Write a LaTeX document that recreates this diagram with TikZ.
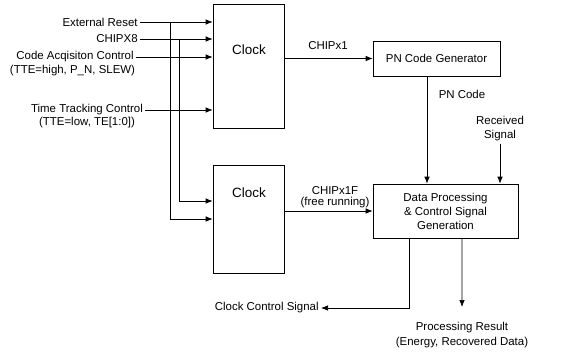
\documentclass[tikz,border=0pt]{standalone}
\usepackage{fontspec}
\setmainfont{Liberation Sans}
\usetikzlibrary{arrows.meta}

\begin{document}
\begin{tikzpicture}[x=1bp, y=-1bp, line width=0.7pt, every node/.style={font=\fontsize{11.5}{14}\selectfont, inner sep=2bp}]
            \tikzstyle{block}=[rectangle, draw, inner sep=0pt]
            \tikzstyle{sig}=[-{Latex[length=7bp,width=5.5bp]}]
            \tikzstyle{clocktext}=[font=\fontsize{13.5}{16}\selectfont]
            \useasboundingbox (0,0) rectangle (565,352);

            \node[block, minimum width=71bp, minimum height=124bp] (clkA) at (248.5,66) {};
            \node[block, minimum width=71bp, minimum height=108bp] (clkB) at (248.5,219) {};
            \node[clocktext] (clkAtxt) at (249,50) {Clock};
            \node[clocktext] (clkBtxt) at (249,193) {Clock};

            \node[anchor=east] (ext) at (140,22) {External Reset};
            \node[anchor=east] (chip8) at (140,39) {CHIPX8};
            \node (acq) at (75,57) {Code Acqisiton Control};
            \node (acqsub) at (72.5,71) {(TTE=high, P\_N, SLEW)};
            \node (tt) at (87,110) {Time Tracking Control};
            \node (ttsub) at (87,123) {(TTE=low, TE[1:0])};

            \node[block, minimum width=127bp, minimum height=35bp] (pn) at (436.5,58.5) {PN Code Generator};
            \node[block, align=center, minimum width=145bp, minimum height=54bp] (dp) at (445.5,211) {Data Processing\\\& Control Signal\\Generation};

            \node (chip1) at (328,46) {CHIPx1};
            \node[inner sep=0.5bp] (chip1f) at (335,191) {CHIPx1F};
            \node[inner sep=0.5bp] (chip1fsub) at (335,203) {(free running)};
            \node (pncode) at (462,94) {PN Code};
            \node[align=center] (rx) at (500,129) {Received\\Signal};
            \node[anchor=east] (ccs) at (321,308) {Clock Control Signal};
            \node[align=center, font=\fontsize{11.5}{16}\selectfont] (pr) at (462,335) {Processing Result\\(Energy, Recovered Data)};

            \coordinate (jExt) at (170,22);
            \coordinate (jChip) at (179,39);
            \coordinate (prEnd) at (462,307);

            \draw[sig] (ext.east) -- (ext.east -| clkA.west);
            \draw[sig] (chip8.east) -- (chip8.east -| clkA.west);
            \draw[sig] (acq.east) -- (acq.east -| clkA.west);
            \draw[sig] (tt.east) -- (tt.east -| clkA.west);
            \draw[sig] (jExt) |- (clkB.west);
            \draw[sig] (jChip) |- ([yshift=18bp]clkB.west);
            \draw[sig] (pn.west -| clkA.east) -- (pn.west);
            \draw[sig] (dp.west -| clkB.east) -- (dp.west);
            \draw[sig] ([xshift=-9.5bp]pn.south) -- ([xshift=-9.5bp]pn.south |- dp.north);
            \draw[sig] (rx.south) -- (rx.south |- dp.north);
            \draw[sig] ([xshift=-36.5bp]dp.south) |- (ccs.east);
            \draw[sig] ([xshift=16.5bp]dp.south) -- (prEnd);
        \end{tikzpicture}
\end{document}
